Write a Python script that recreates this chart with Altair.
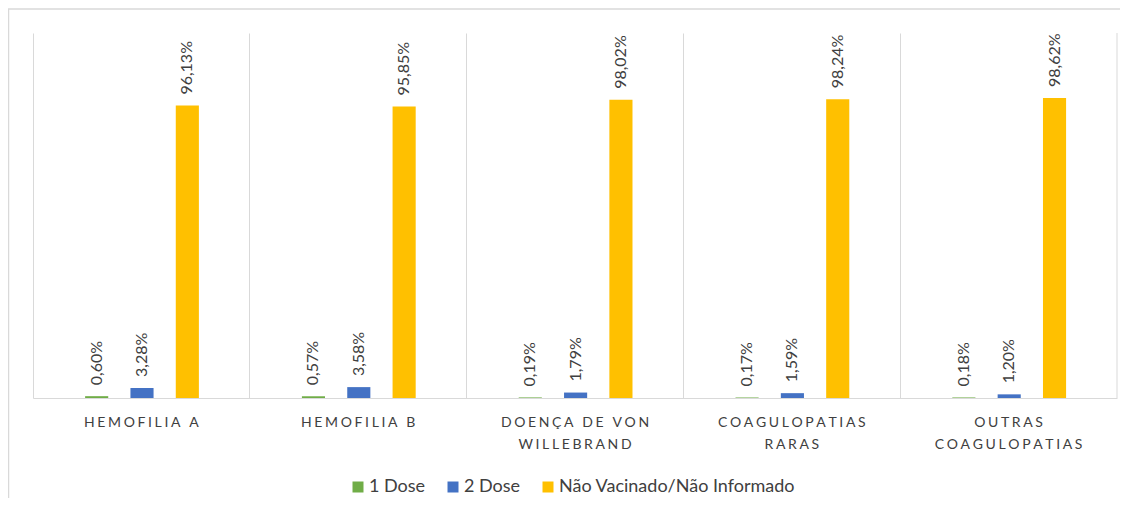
import altair as alt
import pandas as pd

categories = ["HEMOFILIA A", "HEMOFILIA B", "DOENÇA DE VON WILLEBRAND",
              "COAGULOPATIAS RARAS", "OUTRAS COAGULOPATIAS"]
label_lines = [["HEMOFILIA A"], ["HEMOFILIA B"], ["DOENÇA DE VON", "WILLEBRAND"],
               ["COAGULOPATIAS", "RARAS"], ["OUTRAS", "COAGULOPATIAS"]]
series = ["1 Dose", "2 Dose", "Não Vacinado/Não Informado"]
dose1 = [0.60, 0.57, 0.19, 0.17, 0.18]
dose2 = [3.28, 3.58, 1.79, 1.59, 1.20]
nao = [96.13, 95.85, 98.02, 98.24, 98.62]
colors = ["#70AD47", "#4472C4", "#FFC000"]

rows = []
for i, c in enumerate(categories):
    for s, vals in zip(series, [dose1, dose2, nao]):
        v = vals[i]
        rows.append({"category": c, "series": s, "value": v,
                     "label": f"{v:.2f}".replace(".", ",") + "%"})
df = pd.DataFrame(rows)

def spaced(t):
    return "\u2009\u200a".join(list(t))

parts = []
for c, lines in zip(categories, label_lines):
    arr = "[" + ",".join("'" + spaced(l) + "'" for l in lines) + "]"
    parts.append(f"datum.label == '{c}' ? {arr}")
label_expr = " : ".join(parts) + " : datum.label"

FONT = "Lato"
TXT = "#404040"
GRID = "#d9d9d9"
W, H = 1084, 365

x_enc = alt.X("category:N", sort=categories, title=None,
              scale=alt.Scale(paddingInner=0, paddingOuter=0),
              axis=alt.Axis(labelExpr=label_expr, labelAngle=0, grid=True,
                            bandPosition=0, gridColor=GRID, gridWidth=1,
                            ticks=False, domainColor=GRID, domainWidth=1,
                            labelFont=FONT, labelFontSize=14, labelColor=TXT,
                            labelPadding=17, labelLineHeight=22))
xo_enc = alt.XOffset("series:N", sort=series,
                     scale=alt.Scale(range=[41, 177], paddingInner=0.49,
                                     paddingOuter=0.245))
y_enc = alt.Y("value:Q", scale=alt.Scale(domain=[0, 120]), axis=None)

bars = alt.Chart(df).mark_bar().encode(
    x=x_enc, xOffset=xo_enc, y=y_enc,
    color=alt.Color("series:N", sort=series,
                    scale=alt.Scale(domain=series, range=colors),
                    legend=alt.Legend(orient="none", legendX=316, legendY=445,
                                      direction="horizontal", title=None,
                                      symbolType="square", symbolSize=121,
                                      symbolStrokeWidth=0, labelFont=FONT,
                                      labelFontSize=18, labelColor=TXT,
                                      labelLimit=0,
                                      columnPadding=18, labelOffset=2)),
)

labels = alt.Chart(df).mark_text(angle=270, align="left", baseline="middle",
                                 dx=11, font=FONT, fontSize=16, color=TXT).encode(
    x=alt.X("category:N", sort=categories), xOffset=alt.XOffset("series:N", sort=series),
    y=alt.Y("value:Q"), text="label:N")

one = alt.Data(values=[{"k": 1}])
right_grid = alt.Chart(one).mark_rule(color=GRID, strokeWidth=1).encode(
    x=alt.value(W), y=alt.value(0), y2=alt.value(H))
frame_left = alt.Chart(one).mark_rule(color=GRID, strokeWidth=1.5).encode(
    x=alt.value(-24.5), y=alt.value(-24), y2=alt.value(480))
frame_top = alt.Chart(one).mark_rule(color=GRID, strokeWidth=1.5).encode(
    x=alt.value(-25), x2=alt.value(1200), y=alt.value(-24))

chart = alt.layer(frame_left, frame_top, right_grid, bars, labels).properties(
    width=W, height=H,
    autosize=alt.AutoSizeParams(type="none"),
    padding={"left": 25, "top": 25, "right": 3, "bottom": 100},
).configure_view(stroke=None)

chart.save("out.html", embed_options={"renderer": "svg", "actions": False})
